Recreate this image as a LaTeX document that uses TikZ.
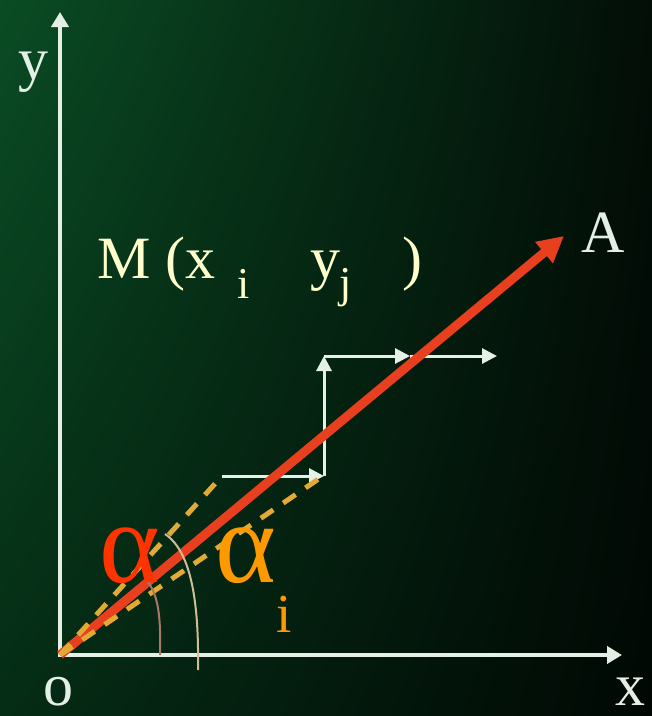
\documentclass[tikz,border=0pt]{standalone}
\usepackage{fontspec}
\setmainfont{Liberation Serif}
\usetikzlibrary{arrows.meta,shadings}
\definecolor{bgul}{RGB}{10,76,36}
\definecolor{bgur}{RGB}{3,14,7}
\definecolor{bgll}{RGB}{5,44,21}
\definecolor{bglr}{RGB}{1,8,4}
\definecolor{axiscol}{RGB}{228,240,230}
\definecolor{redvec}{RGB}{232,64,30}
\definecolor{dashcol}{RGB}{226,170,52}
\definecolor{cream}{RGB}{255,255,204}
\definecolor{alphared}{RGB}{255,51,0}
\definecolor{alphaorange}{RGB}{255,153,0}
\definecolor{arcone}{RGB}{170,120,105}
\definecolor{arctwo}{RGB}{205,190,150}
\tikzset{
  axisline/.style={line width=4.5pt, draw=axiscol, line join=miter, {Triangle[length=15pt,width=17pt]}-{Triangle[length=15pt,width=17pt]}},
  stepline/.style={line width=3pt, draw=axiscol!95!white, -{Triangle[length=15pt,width=15pt]}},
  vecline/.style={line width=9pt, draw=redvec, -{Triangle[length=26pt,width=26pt]}},
  dashline/.style={line width=5pt, draw=dashcol, dash pattern=on 15pt off 12pt},
  txt/.style={inner sep=0pt, anchor=base west, font=\fontsize{60}{60}\selectfont},
  subtxt/.style={inner sep=0pt, anchor=base west, font=\fontsize{44}{44}\selectfont},
  alphatxt/.style={inner sep=0pt, anchor=base west, font=\fontsize{116}{116}\selectfont}
}
\begin{document}
\begin{tikzpicture}[x=1pt,y=-1pt]
\shade[upper left=bgul, upper right=bgur, lower left=bgll, lower right=bglr] (0,0) rectangle (652,716);
\useasboundingbox (0,0) rectangle (652,716);
\coordinate (O) at (60,655);
\coordinate (Ytip) at (60,12);
\coordinate (Xtip) at (622,655);
\coordinate (Atip) at (564,236);
\coordinate (P1) at (222,476);
\coordinate (P2) at (324,476);
\coordinate (P3) at (324,356);
\coordinate (P4) at (410,356);
\coordinate (P5) at (497,356);
\coordinate (D2) at (320,478);
\coordinate (ArcA1) at (160,655);
\coordinate (ArcA2) at (148,582);
\coordinate (ArcB1) at (198,670);
\coordinate (ArcB2) at (165,534);
% axes
\draw[axisline] (Ytip) -- (O) -- (Xtip);
% step arrows
\draw[stepline] (P1) -- (P2);
\draw[stepline] (P2) -- (P3);
\draw[stepline] (P3) -- (P4);
\draw[stepline] (P4) -- (P5);
% vector
\draw[vecline] (O) -- (Atip);
% dashed lines
\draw[dashline] (O) -- (P1);
\draw[dashline] (O) -- (D2);
% arcs
\draw[line width=2pt, draw=arcone] (ArcA1) .. controls (161,615) and (158,596) .. (ArcA2);
\draw[line width=2pt, draw=arctwo] (ArcB1) .. controls (199,605) and (192,552) .. (ArcB2);
% labels
\node[txt, text=axiscol] (ylab) at (18,79) {y};
\node[txt, text=axiscol] (olab) at (43,705) {o};
\node[txt, text=axiscol] (xlab) at (615,705) {x};
\node[txt, text=axiscol] (Alab) at (581,252) {A};
\node[txt, text=cream] (Mlab) at (97,278) {M (x};
\node[subtxt, text=cream] (isub) at (237,298) {i};
\node[txt, text=cream] (ylab2) at (310,278) {y};
\node[subtxt, text=cream] (jsub) at (339,297) {j};
\node[txt, text=cream] (rpar) at (402,278) {)};
\node[alphatxt, text=alphared] (alpha) at (99,582) {α};
\node[alphatxt, text=alphaorange] (alphai) at (215,582) {α};
\node[inner sep=0pt, anchor=base west, font=\fontsize{55}{55}\selectfont, text=alphaorange] (isub2) at (276,632) {i};
\end{tikzpicture}
\end{document}
